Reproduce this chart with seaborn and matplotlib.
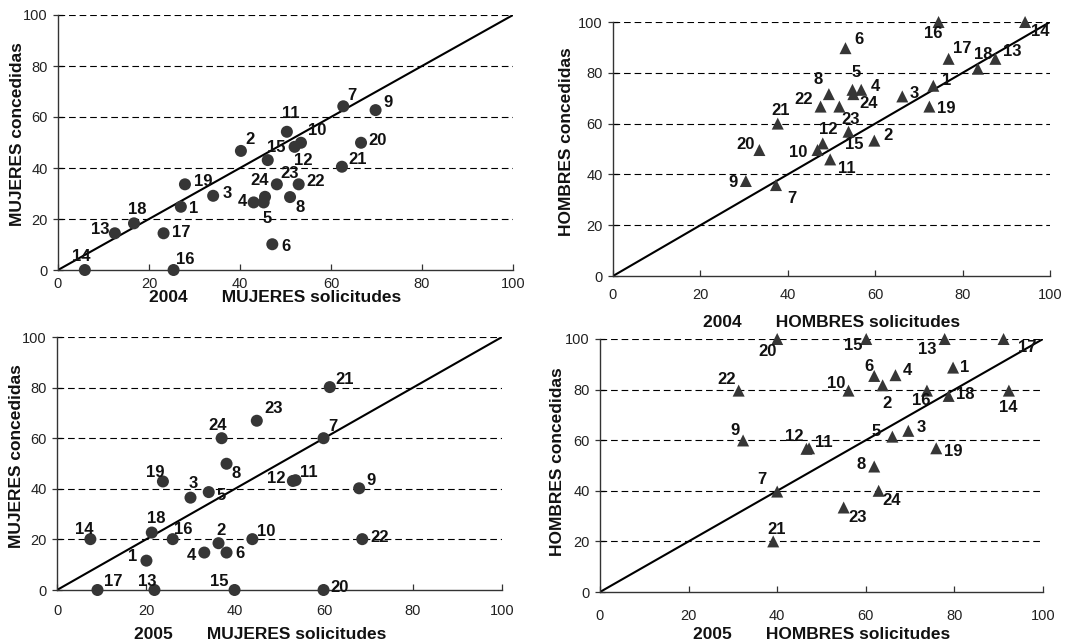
import matplotlib
matplotlib.use("Agg")
import matplotlib.pyplot as plt
import seaborn as sns
import pandas as pd

# Region codes 1..24
regiones = list(range(1, 25))

# 2004 - women: applications (solicitudes) vs granted (concedidas), %
muj04_sol = [27.0, 40.2, 34.1, 43.0, 45.2, 47.1, 62.7, 51.0, 69.8, 53.4, 50.3, 52.0,
             12.5, 5.9, 46.1, 25.4, 23.2, 16.7, 27.9, 66.6, 62.4, 52.9, 48.1, 45.5]
muj04_con = [24.8, 46.7, 29.1, 26.5, 26.5, 10.1, 64.2, 28.6, 62.7, 49.9, 54.2, 48.3,
             14.4, 0.0, 43.1, 0.0, 14.4, 18.3, 33.6, 49.9, 40.5, 33.6, 33.6, 28.7]

# 2004 - men
hom04_sol = [73.3, 59.8, 66.2, 56.8, 54.8, 53.2, 37.3, 49.4, 30.4, 46.8, 49.7, 48.0,
             87.5, 94.3, 53.9, 74.5, 76.8, 83.5, 72.4, 33.5, 37.7, 47.5, 51.8, 55.0]
hom04_con = [74.9, 53.3, 70.7, 73.3, 73.3, 89.7, 35.8, 71.6, 37.4, 49.6, 45.9, 52.2,
             85.5, 100.0, 56.8, 100.0, 85.5, 81.6, 66.7, 49.6, 60.0, 66.7, 66.7, 71.6]

# 2005 - women
muj05_sol = [20.1, 36.3, 30.0, 33.1, 34.1, 38.1, 59.9, 38.1, 67.9, 43.9, 53.6, 53.0,
             21.9, 7.5, 39.9, 26.0, 9.1, 21.3, 23.8, 59.9, 61.3, 68.6, 44.9, 37.0]
muj05_con = [11.6, 18.5, 36.5, 14.8, 38.7, 14.8, 60.0, 49.9, 40.2, 20.1, 43.4, 43.1,
             0.0, 20.1, 0.0, 20.1, 0.0, 22.7, 42.9, 0.0, 80.2, 20.1, 66.9, 60.0]

# 2005 - men
hom05_sol = [79.7, 63.8, 69.6, 66.7, 66.0, 61.9, 40.0, 61.9, 32.3, 56.1, 47.2, 46.6,
             77.8, 92.3, 60.1, 73.8, 91.1, 78.7, 75.9, 40.0, 39.1, 31.3, 55.0, 62.9]
hom05_con = [88.7, 81.7, 63.7, 85.7, 61.4, 85.4, 39.7, 49.6, 59.9, 79.6, 56.8, 56.6,
             100.0, 79.6, 100.0, 79.6, 100.0, 77.5, 56.8, 100.0, 20.0, 79.6, 33.4, 40.0]

# Label offsets in pixels (dx, dy with dy positive = downwards), per region
off_m04 = [(13, 2), (9, -11), (14, -2), (-11, -1), (3, 16), (14, 2), (9, -11), (10, 10),
           (12, -8), (16, -12), (4, -18), (9, 14), (-15, -4), (-4, -14), (8, -13), (12, -11),
           (18, -1), (3, -14), (18, -3), (17, -2), (16, -7), (17, -3), (13, -11), (-5, -16)]
off_h04 = [(13, -5), (14, -5), (12, -3), (14, -3), (4, -17), (14, -9), (16, 13), (-11, -15),
           (-13, 1), (-19, 2), (17, 9), (5, -14), (17, -7), (15, 10), (6, 13), (-5, 11),
           (14, -10), (5, -14), (17, 2), (-14, -6), (3, -13), (-17, -7), (11, 13), (15, 9)]
off_m05 = [(-14, -4), (2, -13), (3, -14), (-13, 3), (12, 3), (13, 1), (9, -12), (10, 10),
           (12, -8), (14, -8), (13, -8), (-17, -2), (-7, -9), (-6, -10), (-15, -9), (11, -10),
           (16, -9), (4, -14), (-8, -9), (16, -2), (15, -8), (17, -2), (17, -12), (-4, -13)]
off_h05 = [(12, 0), (4, 18), (13, -3), (12, -5), (-16, -5), (-5, -9), (-15, -12), (-13, -2),
           (-8, -10), (-12, -7), (15, -6), (-12, -12), (-17, 10), (-1, 17), (-13, 7), (-6, 10),
           (24, 9), (17, -1), (17, 3), (-10, 13), (3, -12), (-12, -11), (14, 10), (13, 10)]

diagonal = [0, 100]
grid_levels = [20, 40, 60, 80, 100]
ticks = [0, 20, 40, 60, 80, 100]

sns.set_style("white")
plt.rcParams["font.family"] = ["Liberation Sans", "DejaVu Sans"]

W, H = 1080, 643
fig = plt.figure(figsize=(W / 100, H / 100), dpi=100)


def px_axes(left, top, right, bottom):
    return fig.add_axes([left / W, 1 - bottom / H, (right - left) / W, (bottom - top) / H])


panels = [
    dict(box=(58, 15, 513, 270), x=muj04_sol, y=muj04_con, off=off_m04, marker="o",
         year="2004", sexo="MUJERES", xpad=5.0,
         ylab=(-0.073, 0.535), xlab=(0.478, -0.078)),
    dict(box=(613, 22, 1050, 276), x=hom04_sol, y=hom04_con, off=off_h04, marker="^",
         year="2004", sexo="HOMBRES", xpad=8.5,
         ylab=(-0.089, 0.528), xlab=(0.5, -0.155)),
    dict(box=(57, 337, 502, 590), x=muj05_sol, y=muj05_con, off=off_m05, marker="o",
         year="2005", sexo="MUJERES", xpad=10.0,
         ylab=(-0.074, 0.528), xlab=(0.456, -0.145)),
    dict(box=(600, 339, 1043, 592), x=hom05_sol, y=hom05_con, off=off_h05, marker="^",
         year="2005", sexo="HOMBRES", xpad=12.5,
         ylab=(-0.079, 0.516), xlab=(0.5, -0.138)),
]

dot_color = "#363636"

for p in panels:
    ax = px_axes(*p["box"])
    df = pd.DataFrame({"sol": p["x"], "con": p["y"], "reg": regiones})

    # dashed reference levels
    for g in grid_levels:
        ax.axhline(g, color="black", lw=0.8, ls=(0, (6, 3.5)), zorder=1)

    # line of equality
    sns.lineplot(x=diagonal, y=diagonal, ax=ax, color="black", lw=1.5, zorder=2)

    sns.scatterplot(data=df, x="sol", y="con", ax=ax, marker=p["marker"], s=75,
                    color=dot_color, edgecolor="none", linewidth=0, zorder=3,
                    clip_on=False, legend=False)

    for r, xv, yv, (dx, dy) in zip(df["reg"], df["sol"], df["con"], p["off"]):
        ax.annotate(str(r), (xv, yv), xytext=(dx, -dy), textcoords="offset pixels",
                    ha="center", va="center", fontsize=12, fontweight="bold",
                    color="#111111", zorder=4, annotation_clip=False)

    ax.set_xlim(0, 100)
    ax.set_ylim(0, 100)
    ax.set_xticks(ticks)
    ax.set_yticks(ticks)
    for s in ("top", "right"):
        ax.spines[s].set_visible(False)
    for s in ("left", "bottom"):
        ax.spines[s].set_color("#333333")
        ax.spines[s].set_linewidth(1.0)
    ax.tick_params(axis="x", direction="in", length=4, width=0.9, color="#333333",
                   labelsize=10.5, labelcolor="#222222", pad=p["xpad"])
    ax.tick_params(axis="y", direction="inout", length=7, width=0.9, color="#333333",
                   labelsize=10.5, labelcolor="#222222", pad=4)
    ax.tick_params(left=True, bottom=True)

    ax.set_xlabel(f"{p['year']}       {p['sexo']} solicitudes", fontsize=12.5,
                  fontweight="bold", color="#111111")
    ax.set_ylabel(f"{p['sexo']} concedidas", fontsize=12.5, fontweight="bold",
                  color="#111111")
    ax.xaxis.set_label_coords(*p["xlab"])
    ax.yaxis.set_label_coords(*p["ylab"])
    ax.set_facecolor("white")

fig.savefig("out.png", dpi=100, facecolor="white")
